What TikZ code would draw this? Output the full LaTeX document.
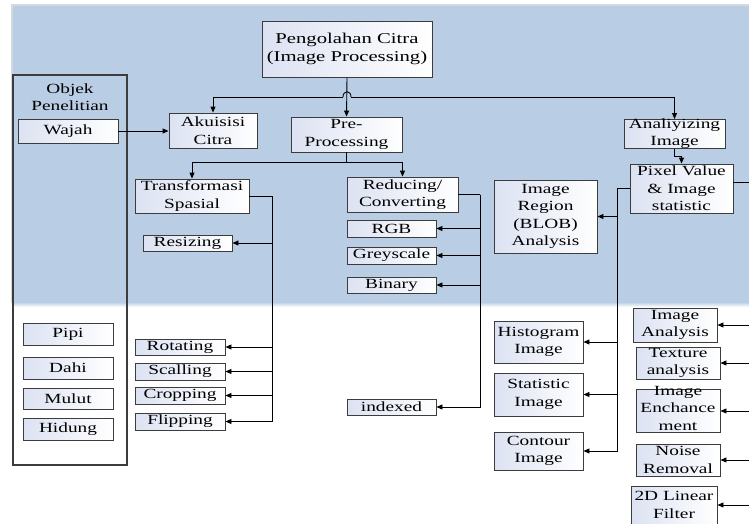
\documentclass[tikz,border=0pt]{standalone}
\usepackage{fontspec}
\setmainfont[FakeStretch=1.38]{Liberation Serif}
\usetikzlibrary{arrows.meta}

\definecolor{pita}{HTML}{B9CDE5}
\definecolor{bayang}{HTML}{D5D8DD}
\definecolor{tepi}{HTML}{3C3C3C}
\definecolor{gradasi}{HTML}{DCE2F2}
\newcommand{\isi}{\fontsize{14}{17.5}\selectfont}
\newcommand{\isibesar}{\fontsize{15}{18}\selectfont}

\tikzset{
  kotak/.style={draw=tepi, line width=0.9pt, left color=gradasi, right color=white,
    inner sep=0pt, align=center, font=\isi},
  ukuran/.style 2 args={minimum width=#1pt, minimum height=#2pt},
  panah/.style={-{Triangle[length=6pt,width=5pt]}, line width=0.9pt},
}

\begin{document}
\begin{tikzpicture}[x=1pt,y=-1pt]
  \useasboundingbox (0,0) rectangle (749,523);
  \fill[white] (0,0) rectangle (749,523);
  % pita biru
  \fill[bayang] (11,4) rectangle (749,303);
  \fill[pita] (13,6) rectangle (749,303);
  \shade[top color=pita, bottom color=white] (13,302) rectangle (749,307);

  \draw
    (347,49) node[kotak, ukuran={170}{56}, font=\isibesar] (citra)
      {Pengolahan Citra\\(Image Processing)}
    (70,270) node[draw=tepi, line width=1.2pt, ukuran={114}{390}, inner sep=0pt] (objek) {}
    (70,97) node[align=center, font=\isi] (judulobjek) {Objek\\Penelitian}
    (68,131) node[kotak, ukuran={100}{24}] (wajah) {Wajah}
    (213,130.5) node[kotak, ukuran={88}{35}] (akuisisi) {Akuisisi\\Citra}
    (346.5,134.5) node[kotak, ukuran={111}{35}] (pre) {Pre-\\Processing}
    (674.5,119) node[kotak, anchor=north, minimum width=101pt,
      text height=26.5pt, text depth=2.5pt] (analisis) {Analiyizing\\Image}
    (681.5,188.5) node[kotak, ukuran={103}{49}] (piksel) {Pixel Value\\\& Image\\statistic}
    (545.5,216.5) node[kotak, ukuran={103}{73}] (blob) {Image\\Region\\(BLOB)\\Analysis}
    (192,196) node[kotak, ukuran={114}{34}] (transformasi) {Transformasi\\Spasial}
    (402.5,194.5) node[kotak, ukuran={111}{35}] (reduksi) {Reducing/\\Converting}
    (187.5,243) node[kotak, ukuran={89}{16}] (resize) {Resizing}
    (391.5,228.5) node[kotak, ukuran={89}{17}] (rgb) {RGB}
    (391.5,255.5) node[kotak, ukuran={89}{17}] (grey) {Greyscale}
    (391.5,285) node[kotak, ukuran={89}{16}] (biner) {Binary}
    (391.5,407) node[kotak, ukuran={89}{16}] (indexed) {indexed}
    (180,347) node[kotak, ukuran={90}{16}] (rotasi) {Rotating}
    (180,371.5) node[kotak, ukuran={90}{17}] (skala) {Scalling}
    (180,395.5) node[kotak, ukuran={90}{17}] (crop) {Cropping}
    (180,421.5) node[kotak, ukuran={90}{17}] (flip) {Flipping}
    (68,334) node[kotak, ukuran={90}{22}] (pipi) {Pipi}
    (68,368) node[kotak, ukuran={90}{22}] (dahi) {Dahi}
    (68,398.5) node[kotak, ukuran={90}{21}] (mulut) {Mulut}
    (68,429) node[kotak, ukuran={90}{22}] (hidung) {Hidung}
    (538.5,342) node[kotak, ukuran={89}{42}] (histogram) {Histogram\\Image}
    (538.5,394.5) node[kotak, ukuran={89}{43}] (statistik) {Statistic\\Image}
    (538.5,451) node[kotak, ukuran={89}{38}] (kontur) {Contour\\Image}
    (675,325) node[kotak, ukuran={84}{34}] (imganalisis) {Image\\Analysis}
    (678,363) node[kotak, ukuran={84}{32}] (tekstur) {Texture\\analysis}
    (678,389) node[kotak, anchor=north, minimum width=84pt,
      text height=41pt, text depth=2pt] (enhance) {Image\\Enchance\\ment}
    (678,460) node[kotak, ukuran={84}{32}] (noise) {Noise\\Removal}
    (674,505) node[kotak, ukuran={86}{38}] (filter) {2D Linear\\Filter};

  \coordinate (hopkiri) at (343,97);
  \coordinate (hopkanan) at (351,97);
  \coordinate (cabang) at (346.5,162);
  \coordinate (busT) at (272,196);
  \coordinate (busR) at (480,194.5);
  \coordinate (busP) at (617,188.5);
  \coordinate (busK) at (775,182);

  \begin{scope}[panah]
    \draw (citra.south) -- (pre.north);
    \draw (hopkiri) -| (akuisisi.north);
    \draw (hopkanan) -| (analisis.north);
    \draw[-] (hopkiri) .. controls (343,90) and (351,90) .. (hopkanan);
    \draw (wajah.east) -- (wajah.east -| akuisisi.west);
    \draw[-] (pre.south) -- (cabang);
    \draw (cabang) -| (transformasi.north);
    \draw (cabang) -| (reduksi.north);
    \draw[-] (transformasi.east) -- (busT);
    \draw (busT) |- (resize.east);
    \draw (busT) |- (rotasi.east);
    \draw (busT) |- (skala.east);
    \draw (busT) |- (crop.east);
    \draw (busT) |- (flip.east);
    \draw[-] (reduksi.east) -- (busR);
    \draw (busR) |- (rgb.east);
    \draw (busR) |- (grey.east);
    \draw (busR) |- (biner.east);
    \draw (busR) |- (indexed.east);
    \draw (analisis.south) -- ++(0,8) -| (piksel.north);
    \draw[-] (piksel.west) -- (busP);
    \draw (busP) |- (blob.east);
    \draw (busP) |- (histogram.east);
    \draw (busP) |- (statistik.east);
    \draw (busP) |- (kontur.east);
    \draw[-] (piksel.east |- busK) -- (busK);
    \draw (busK) |- (imganalisis.east);
    \draw (busK) |- (tekstur.east);
    \draw (busK) |- (enhance.east);
    \draw (busK) |- (noise.east);
    \draw (busK) |- (filter.east);
  \end{scope}
\end{tikzpicture}
\end{document}
